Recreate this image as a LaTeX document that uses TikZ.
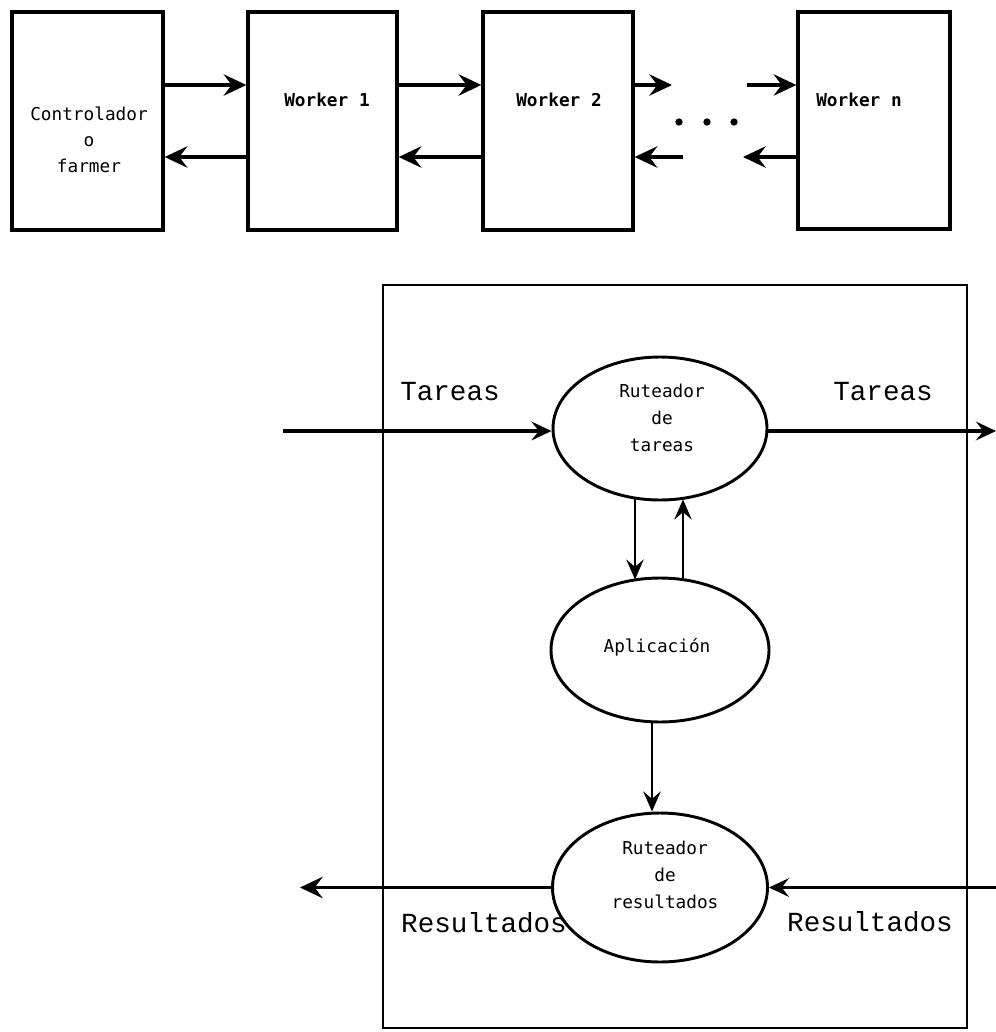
\documentclass[tikz,border=0pt]{standalone}
\usepackage{fontspec}
\newfontfamily\smallmono{DejaVu Sans Mono}
\newfontfamily\bigmono{Liberation Mono}
\usetikzlibrary{arrows.meta,calc,shapes.geometric}
\begin{document}
\begin{tikzpicture}[x=0.75pt,y=-0.75pt,
  wbox/.style={draw,line width=2.5pt,inner sep=0pt,minimum width=#1},
  bigbox/.style={draw,line width=1.9pt,inner sep=0pt},
  proc/.style={draw,ellipse,line width=2.2pt,inner sep=0pt},
  smalltxt/.style={font=\smallmono\fontsize{13.3}{20}\selectfont,align=center,inner sep=0pt},
  boldtxt/.style={font=\smallmono\bfseries\fontsize{13.3}{20}\selectfont,inner sep=0pt},
  bigtxt/.style={font=\bigmono\fontsize{20.7}{24}\selectfont,inner sep=0pt},
  bigarr/.style={line width=2.5pt,-{Stealth[length=17pt,width=16pt,inset=6pt]}},
  midarr/.style={line width=2.4pt,-{Stealth[length=15pt,width=14pt,inset=5.5pt]}},
  varr/.style={line width=2pt,-{Stealth[length=15pt,width=13pt,inset=5.5pt]}}]
\path[use as bounding box,fill=white] (0,0) rectangle (996,1032);

% top row boxes
\node[wbox=113.25pt,minimum height=163.5pt] (ctrl) at (87.5,121) {};
\node[wbox=111.75pt,minimum height=163.5pt] (w1) at (322.5,121) {};
\node[wbox=112.5pt,minimum height=163.5pt] (w2) at (558,121) {};
\node[wbox=114pt,minimum height=162.75pt] (wn) at (874,120.5) {};

\node[smalltxt,font=\smallmono\fontsize{13.3}{19.5}\selectfont] (ctrlt) at (89,140) {Controlador\\o\\farmer};
\node[boldtxt] (w1t) at (327,100) {Worker 1};
\node[boldtxt] (w2t) at (559,100) {Worker 2};
\node[boldtxt] (wnt) at (859,100) {Worker n};

\coordinate (ya) at (0,85);
\coordinate (yb) at (0,157);
\coordinate (s1) at (672,85);
\coordinate (s2) at (683,157);
\coordinate (s3) at (747,85);
\coordinate (s4) at (743,157);

\draw[bigarr] (ctrl.east |- ya) -- (w1.west |- ya);
\draw[bigarr] (w1.west |- yb) -- (ctrl.east |- yb);
\draw[bigarr] (w1.east |- ya) -- (w2.west |- ya);
\draw[bigarr] (w2.west |- yb) -- (w1.east |- yb);
\draw[bigarr] (w2.east |- ya) -- (s1);
\draw[bigarr] (s2) -- (w2.east |- yb);
\draw[bigarr] (s3) -- (wn.west |- ya);
\draw[bigarr] (wn.west |- yb) -- (s4);

\node[circle,fill,inner sep=0pt,minimum size=5.5pt] (d1) at (679,122) {};
\node[circle,fill,inner sep=0pt,minimum size=5.5pt] (d2) at (707,122) {};
\node[circle,fill,inner sep=0pt,minimum size=5.5pt] (d3) at (734,122) {};

% lower part
\node[bigbox,minimum width=438pt,minimum height=557.25pt] (frame) at (675,656.5) {};

\node[proc,minimum width=160.5pt,minimum height=107.25pt] (e1) at (660,428.5) {};
\node[proc,minimum width=163.5pt,minimum height=108pt] (e2) at (660,650) {};
\node[proc,minimum width=161.25pt,minimum height=111.75pt] (e3) at (660,887.5) {};

\node[smalltxt] (e1t) at (662,418) {Ruteador\\de\\tareas};
\node[smalltxt] (e2t) at (657,647) {Aplicación};
\node[smalltxt] (e3t) at (665,875) {Ruteador\\de\\resultados};

\coordinate (tin) at (283,431);
\coordinate (tout) at (996,431);
\coordinate (rout) at (300,887.5);
\coordinate (rin) at (996,887.5);

\draw[midarr] (tin) -- (tin -| e1.west);
\draw[midarr] (e1.east |- tout) -- (tout);
\draw[varr] ($(e1.south)+(-25,-2)$) -- ($(e2.north)+(-25,3)$);
\draw[varr] ($(e2.north)+(23,3)$) -- ($(e1.south)+(23,-2)$);
\draw[varr] (e2.south -| 652,0) -- ($(e3.north)+(-8,0)$);
\draw[bigarr] (e3.west) -- (rout);
\draw[midarr] (rin) -- (e3.east);

\node[bigtxt] (lt1) at (450,392) {Tareas};
\node[bigtxt] (lt2) at (883,392) {Tareas};
\node[bigtxt] (lr1) at (484,923) {Resultados};
\node[bigtxt] (lr2) at (870,922) {Resultados};
\end{tikzpicture}
\end{document}
